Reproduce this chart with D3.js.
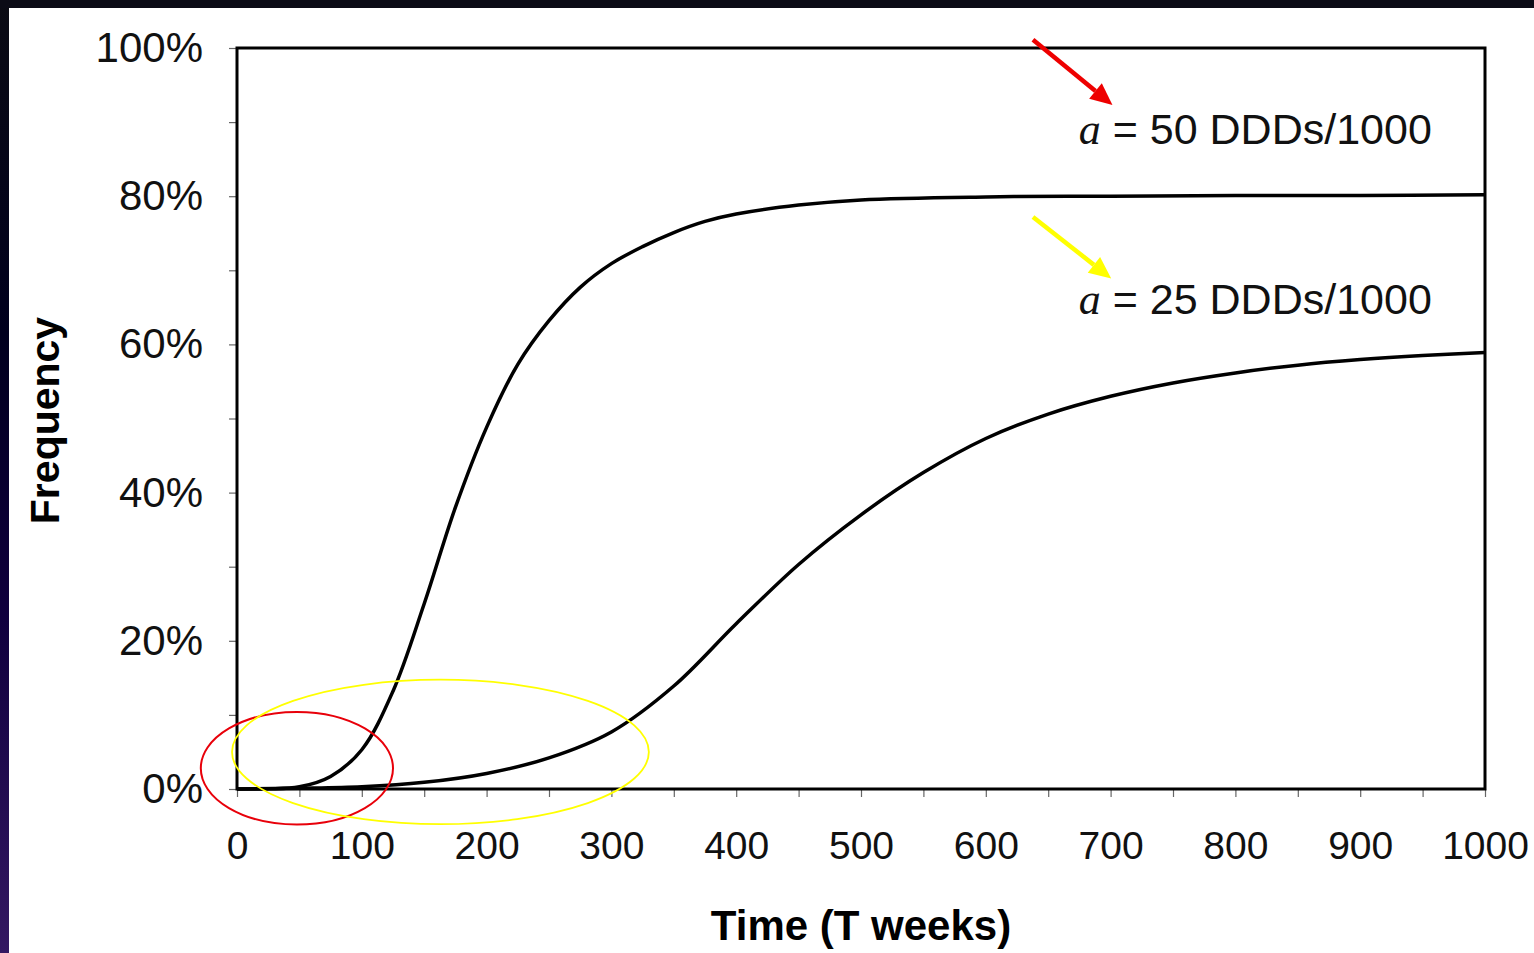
<!DOCTYPE html>
<html>
<head>
<meta charset="utf-8">
<script src="https://cdn.jsdelivr.net/npm/d3@7"></script>
<style>
  html, body { margin: 0; padding: 0; background: #fff; overflow: hidden; }
  svg { display: block; }
</style>
</head>
<body>
<script>
// ---- data (weeks, frequency fraction) ----
const weeks50 = [0, 25, 50, 75, 100, 125, 150, 175, 200, 225, 250, 275, 300, 325, 350, 375, 400, 450, 500, 600, 700, 800, 900, 1000];
const freq50  = [0, 0.0002, 0.003, 0.017, 0.053, 0.132, 0.250, 0.380, 0.488, 0.573, 0.632, 0.677, 0.709, 0.732, 0.751, 0.766, 0.776, 0.788, 0.795, 0.799, 0.800, 0.801, 0.801, 0.802];
const weeks25 = [0, 50, 100, 150, 200, 250, 300, 350, 400, 450, 500, 550, 600, 650, 700, 750, 800, 850, 900, 950, 1000];
const freq25  = [0, 0.001, 0.003, 0.009, 0.021, 0.042, 0.077, 0.139, 0.223, 0.303, 0.370, 0.427, 0.473, 0.506, 0.530, 0.548, 0.5615, 0.572, 0.5795, 0.585, 0.589];
const xTickValues = d3.range(0, 1001, 50);
const xLabelValues = d3.range(0, 1001, 100);
const yTickValues = d3.range(0, 1.0001, 0.1);
const yLabelValues = [0, 0.2, 0.4, 0.6, 0.8, 1.0];
const seriesLabels = ["50 DDDs/1000", "25 DDDs/1000"];
const xTitle = "Time (T weeks)";
const yTitle = "Frequency";

const W = 1534, H = 953;
const svg = d3.select("body").append("svg").attr("width", W).attr("height", H);

// page background: dark frame
const defs = svg.append("defs");
const grad = defs.append("linearGradient").attr("id", "side").attr("x1", 0).attr("y1", 0).attr("x2", 0).attr("y2", 1);
grad.append("stop").attr("offset", "0%").attr("stop-color", "#0b0b14");
grad.append("stop").attr("offset", "35%").attr("stop-color", "#00001e");
grad.append("stop").attr("offset", "65%").attr("stop-color", "#10003e");
grad.append("stop").attr("offset", "100%").attr("stop-color", "#341862");
svg.append("rect").attr("x", 0).attr("y", 0).attr("width", W).attr("height", H).attr("fill", "url(#side)");
svg.append("rect").attr("x", 0).attr("y", 0).attr("width", W).attr("height", 8).attr("fill", "#0b0b16");
svg.append("rect").attr("x", 9).attr("y", 8).attr("width", W - 9).attr("height", H - 8).attr("fill", "#ffffff");

const x = d3.scaleLinear().domain([0, 1000]).range([237, 1485]);
const y = d3.scaleLinear().domain([0, 1]).range([789, 48]);

const font = "'Liberation Sans', Arial, Helvetica, sans-serif";

// x axis ticks
const xAxis = d3.axisBottom(x).tickValues(xTickValues).tickSize(8).tickPadding(34)
  .tickFormat(d => (xLabelValues.includes(d) ? d3.format("d")(d) : ""));
const gx = svg.append("g").attr("transform", `translate(0,${y(0)})`).call(xAxis);
gx.select(".domain").remove();
gx.selectAll(".tick line").attr("stroke", "#666").attr("stroke-width", 1.2);
gx.selectAll(".tick text").attr("font-family", font).attr("font-size", 39).attr("fill", "#111");

// y axis ticks
const yAxis = d3.axisLeft(y).tickValues(yTickValues).tickSize(8).tickPadding(26)
  .tickFormat(d => (yLabelValues.some(v => Math.abs(v - d) < 1e-6) ? d3.format(".0%")(d) : ""));
const gy = svg.append("g").attr("transform", `translate(${x(0)},0)`).call(yAxis);
gy.select(".domain").remove();
gy.selectAll(".tick line").attr("stroke", "#666").attr("stroke-width", 1.2);
gy.selectAll(".tick text").attr("font-family", font).attr("font-size", 42).attr("fill", "#111");

// plot frame
svg.append("rect")
  .attr("x", x(0)).attr("y", y(1))
  .attr("width", x(1000) - x(0)).attr("height", y(0) - y(1))
  .attr("fill", "none").attr("stroke", "#000").attr("stroke-width", 3);

// curves
const line = d3.line().x(d => x(d[0])).y(d => y(d[1])).curve(d3.curveCatmullRom.alpha(0.5));
[[weeks50, freq50], [weeks25, freq25]].forEach(([w, f]) => {
  svg.append("path")
    .datum(w.map((v, i) => [v, f[i]]))
    .attr("d", line)
    .attr("fill", "none").attr("stroke", "#000").attr("stroke-width", 3.5)
    .attr("stroke-linejoin", "round");
});

// annotation ellipses (data units)
const ellipses = [
  { cx: 48, cy: 0.028, rx: 77, ry: 0.076, color: "#e8000a", w: 2 },
  { cx: 163, cy: 0.05, rx: 167, ry: 0.0975, color: "#ffff00", w: 1.8 }
];
ellipses.forEach(e => {
  svg.append("ellipse")
    .attr("cx", x(e.cx)).attr("cy", y(e.cy))
    .attr("rx", x(e.rx) - x(0)).attr("ry", y(0) - y(e.ry))
    .attr("fill", "none").attr("stroke", e.color).attr("stroke-width", e.w);
});

// arrows
const arrows = [
  { x1: 637.8, y1: 1.011, x2: 701.5, y2: 0.923, color: "#ee0000" },
  { x1: 637.8, y1: 0.772, x2: 700.5, y2: 0.689, color: "#ffff00" }
];
arrows.forEach(a => {
  const X1 = x(a.x1), Y1 = y(a.y1), X2 = x(a.x2), Y2 = y(a.y2);
  const ang = Math.atan2(Y2 - Y1, X2 - X1);
  const L = 22, Wd = 10;
  const bx = X2 - L * Math.cos(ang), by = Y2 - L * Math.sin(ang);
  svg.append("line").attr("x1", X1).attr("y1", Y1).attr("x2", bx).attr("y2", by)
    .attr("stroke", a.color).attr("stroke-width", 4.5);
  const px = -Math.sin(ang), py = Math.cos(ang);
  svg.append("path")
    .attr("d", `M${X2},${Y2}L${bx + px * Wd},${by + py * Wd}L${bx - px * Wd},${by - py * Wd}Z`)
    .attr("fill", a.color);
});

// series labels
const labelPos = [{ xv: 674.5, yv: 0.87 }, { xv: 674.5, yv: 0.641 }];
seriesLabels.forEach((s, i) => {
  const t = svg.append("text")
    .attr("x", x(labelPos[i].xv)).attr("y", y(labelPos[i].yv))
    .attr("font-family", font).attr("font-size", 43).attr("fill", "#111");
  t.append("tspan").attr("font-family", "'Liberation Serif', 'Times New Roman', serif")
    .attr("font-style", "italic").attr("font-size", 44).text("a");
  t.append("tspan").text(" = " + s);
});

// axis titles
svg.append("text")
  .attr("x", (x(0) + x(1000)) / 2).attr("y", 940)
  .attr("text-anchor", "middle")
  .attr("font-family", font).attr("font-weight", "bold").attr("font-size", 42).attr("fill", "#000")
  .text(xTitle);
svg.append("text")
  .attr("transform", `translate(59,${(y(0) + y(1)) / 2 + 2}) rotate(-90)`)
  .attr("text-anchor", "middle")
  .attr("font-family", font).attr("font-weight", "bold").attr("font-size", 41).attr("fill", "#000")
  .text(yTitle);
</script>
</body>
</html>
